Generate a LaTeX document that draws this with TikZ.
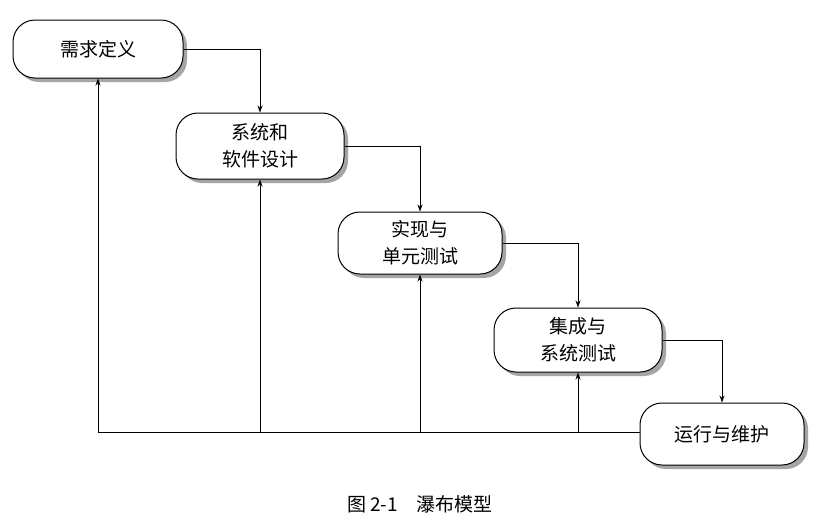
\documentclass[tikz,border=0pt]{standalone}
\usepackage{fontspec}
\newfontfamily\cjk{Noto Sans CJK SC}
\usetikzlibrary{shadows,arrows.meta}
\begin{document}
\begin{tikzpicture}[x=1pt,y=-1pt,
  stage/.style={draw,line width=1pt,rounded corners=22pt,fill=white,
    drop shadow={shadow xshift=4pt,shadow yshift=-4pt,fill=black!70},
    align=center,font=\cjk\fontsize{19}{27}\selectfont,inner sep=0pt},
  conn/.style={line width=0.8pt,-{Stealth[length=7pt,width=5pt]}}]
\useasboundingbox[fill=white] (0,0) rectangle (818,523);
\node[stage,minimum width=170pt,minimum height=58pt] (b1) at (98,49) {需求定义};
\node[stage,minimum width=168pt,minimum height=66pt] (b2) at (260,146) {系统和\\软件设计};
\node[stage,minimum width=164pt,minimum height=62pt] (b3) at (420,243) {实现与\\单元测试};
\node[stage,minimum width=168pt,minimum height=64pt] (b4) at (578,340) {集成与\\系统测试};
\node[stage,minimum width=164pt,minimum height=62pt] (b5) at (722,434) {运行与维护};
\draw[conn] (b1.east) -| (b2.north);
\draw[conn] (b2.east) -| (b3.north);
\draw[conn] (b3.east) -| (b4.north);
\draw[conn] (b4.east) -| (b5.north);
\coordinate (c1) at (98,432);
\coordinate (c2) at (260,432);
\coordinate (c3) at (420,432);
\coordinate (c4) at (578,432);
\draw[line width=0.8pt] (b5.west |- c1) -- (c1);
\draw[conn] (c1) -- (b1.south);
\draw[conn] (c2) -- (b2.south);
\draw[conn] (c3) -- (b3.south);
\draw[conn] (c4) -- (b4.south);
\node[font=\cjk\fontsize{19}{22}\selectfont] (cap) at (420,504) {图 2-1\quad 瀑布模型};
\end{tikzpicture}
\end{document}
